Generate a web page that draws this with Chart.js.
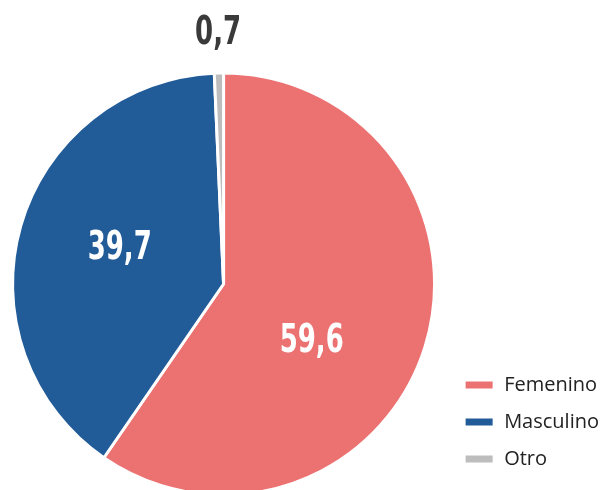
<!DOCTYPE html>
<html>
<head>
<meta charset="utf-8">
<script src="https://cdn.jsdelivr.net/npm/chart.js@4/dist/chart.umd.min.js"></script>
<style>
html,body{margin:0;padding:0;background:#fff;overflow:hidden;}
#wrap{width:606px;height:490px;position:relative;}
</style>
</head>
<body>
<div id="wrap"><canvas id="c" width="606" height="490"></canvas></div>
<script>
const categories = ['Femenino', 'Masculino', 'Otro'];
const values = [59.6, 39.7, 0.7];
const valueLabels = ['59,6', '39,7', '0,7'];
const colors = ['#ec7171', '#215c99', '#bdbdbd'];

const labelPlugin = {
  id: 'sliceLabels',
  afterDatasetsDraw(chart) {
    const ctx = chart.ctx;
    const meta = chart.getDatasetMeta(0);
    const cfg = [
      {f: 0.50, da: 0.28, color: '#ffffff'},
      {f: 0.52, da: 0.05, color: '#ffffff'},
      {f: 1.185, da: 0.0, color: '#3a3a3a'}
    ];
    const sx = 0.74;
    meta.data.forEach((arc, i) => {
      const p = arc.getProps(['x','y','startAngle','endAngle','outerRadius'], true);
      const a = (p.startAngle + p.endAngle) / 2 + cfg[i].da;
      const r = p.outerRadius * cfg[i].f;
      const x = p.x + Math.cos(a) * r;
      const y = p.y + Math.sin(a) * r;
      ctx.save();
      ctx.translate(x, y);
      ctx.scale(sx, 1);
      ctx.font = 'bold 39px "DejaVu Sans Condensed", "DejaVu Sans", sans-serif';
      ctx.textAlign = 'center';
      ctx.textBaseline = 'middle';
      ctx.fillStyle = cfg[i].color;
      ctx.fillText(valueLabels[i], 0, 0);
      ctx.restore();
    });
  }
};

new Chart(document.getElementById('c'), {
  type: 'pie',
  data: {
    labels: categories,
    datasets: [{
      data: values,
      backgroundColor: colors,
      borderColor: '#ffffff',
      borderWidth: 3,
      radius: 211,
      clip: false
    }]
  },
  options: {
    responsive: false,
    animation: false,
    layout: {padding: {top: 82, bottom: 4, left: -16, right: -3}},
    plugins: {
      tooltip: {enabled: false},
      legend: {
        position: 'right',
        align: 'end',
        labels: {
          boxWidth: 30,
          boxHeight: 10,
          padding: 17,
          color: '#222222',
          font: {family: '"Open Sans", "Noto Sans", sans-serif', size: 20}
        }
      }
    }
  },
  plugins: [labelPlugin]
});
</script>
</body>
</html>
